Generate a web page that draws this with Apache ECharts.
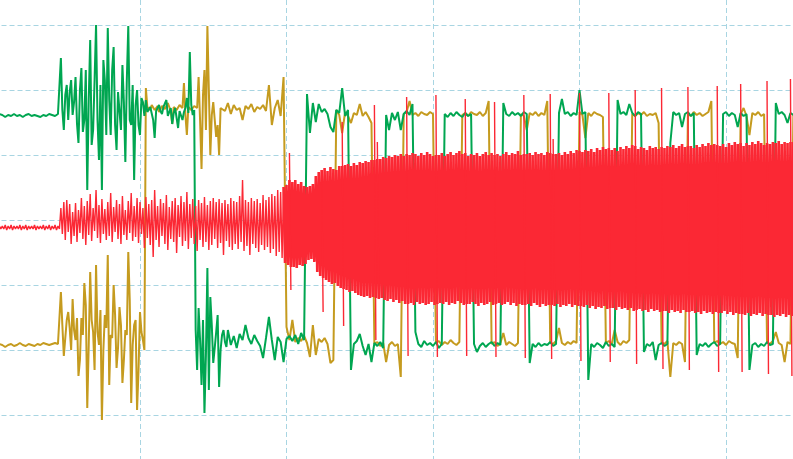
<!DOCTYPE html>
<html><head><meta charset="utf-8">
<script src="https://cdn.jsdelivr.net/npm/echarts@6/dist/echarts.min.js"></script>
<style>html,body{margin:0;padding:0;background:#fff}#c{width:793px;height:459px}</style>
</head><body><div id="c"></div>
<script>
// x: sample index (grid line every 50 samples); y: signal value (grid line every 65 units)
const xTicks = { min: 0, max: 300, interval: 50 };
const yTicks = { min: -260, max: 260, interval: 65 };

// green channel, one value per sample
const greenY = [
105,104,106,105,103,105,104,106,104,105,
103,105,106,104,105,104,103,105,104,106,
105,104,106,162,90,135,128,105,143,77,
152,100,30,180,90,195,60,30,140,192,
85,173,70,130,155,58,194,95,40,130,
85,118,120,110,114,82,112,109,113,120,
108,96,112,92,111,108,122,168,105,-110,
-88,-165,-193,-48,-77,-143,-112,-167,-115,-122,
-110,-125,-116,-128,-114,-120,-105,-118,-124,-115,
-121,-126,-138,-118,-97,-120,-140,-117,-122,-142,
-119,-116,-121,-115,-124,-113,-120,126,87,117,
98,116,108,111,106,93,88,110,107,132,
104,110,-150,-124,-121,-114,-126,-135,-124,-142,
-123,-126,-122,-128,105,90,107,100,108,90,
106,109,105,116,-112,-124,-127,-121,-125,-123,
-126,-122,-128,-124,106,103,107,104,108,105,
103,107,104,106,-124,-132,-126,-123,-127,-124,
-122,-126,-123,-125,117,106,104,108,105,107,
104,108,106,-143,-124,-127,-123,-126,-124,-125,
-122,-126,-124,107,121,106,108,104,107,105,
130,106,108,-160,-124,-127,-123,-125,-128,-122,
-126,-124,-127,120,106,108,105,116,107,104,
108,106,-132,-124,-126,-122,-140,-125,-123,-126,
-124,77,108,105,107,93,106,108,104,107,
-135,-124,-126,-123,-127,-124,-122,-126,-124,106,
108,104,107,105,93,107,104,106,-150,-125,
-123,-127,-124,-126,-122,-125,-124,117,106,108,
105,97,107,105];
// extra half-step green samples inside the bursts (x = greenMidStart + k + 0.5)
const greenMidStart = 23;
const greenMid = [
110,125,100,140,118,96,130,88,150,120,
75,140,100,135,160,85,120,150,95,128,
90,118,140,100,135,115,95,122,104,
108,113,100,109,115,106,111,104,112,107,
114,109,100,112,107,115,110,
-150,-120,-100,-135,-170,-105,-128,-95,-130,-110,-127];

// gold channel, one value per sample
const goldY = [
-125,-126,-124,-125,-127,-125,-124,-126,-125,-123,
-125,-126,-124,-125,-126,-124,-125,-123,-124,-125,
-124,-123,-124,-72,-136,-100,-108,-79,-120,-156,
-98,-63,-188,-52,-112,-45,-125,-200,-95,-35,
-115,-65,-148,-87,-163,-110,-32,-183,-105,-190,
-92,-120,132,112,115,110,114,111,116,112,
113,96,114,111,115,137,85,113,111,116,
143,51,150,194,65,118,83,65,114,109,
117,106,115,110,112,100,114,111,116,108,
113,111,115,109,135,95,112,120,104,143,
-107,-120,-100,-122,-118,-121,-116,-123,-137,-105,
-135,-119,-122,-118,-124,-143,-140,110,105,87,
108,104,97,107,105,116,104,108,103,97,
-124,-122,-126,-123,-142,-125,-122,-126,-124,-157,
106,108,119,105,107,104,108,106,105,108,
106,-123,-121,-125,-122,-124,-120,-123,-125,-122,
105,107,104,108,106,105,108,104,107,119,
-124,-122,-126,-123,-113,-125,-122,-124,-126,-123,
106,104,90,107,105,108,104,107,105,119,
-122,-124,-121,-108,-123,-125,-122,-124,-121,-123,
108,105,82,107,104,108,106,105,103,-123,
-121,-124,-110,-122,-125,-121,-123,-120,106,104,
107,105,108,104,106,105,107,97,-122,-124,
-121,-157,-123,-125,-122,-124,-142,106,104,108,
105,107,104,106,108,119,-123,-121,-124,-122,
-125,-121,-123,-124,-138,106,112,104,85,107,
105,108,104,106,-122,-124,-121,-112,-123,-125,
-142,-122,-124,106];
// extra half-step gold samples inside the bursts (x = goldMidStart + k + 0.5)
const goldMidStart = 23;
const goldMid = [
-105,-118,-92,-130,-110,-98,-140,-115,-85,-125,
-100,-150,-112,-90,-130,-108,-165,-118,-95,-128,
-105,-140,-115,-80,-125,-100,-150,-112,-130,
113,110,116,112,108,114,111,117,109,113,
110,115,112,105,113,110,114,
112,100,125,90,130,105,120,95,112];

// red channel envelope: peak of each cycle (at sample j) and trough (at sample j+0.5)
const redHi = [
-6,-5,-6,-6,-5,-6,-5,-6,-6,-5,
-6,-5,-6,-6,-5,-6,-6,-5,-6,-5,
-6,-5,-6,12,18,20,16,8,17,10,
22,14,19,26,12,30,15,21,11,18,
27,13,20,16,24,10,19,27,14,22,
18,12,23,16,20,30,14,21,17,25,
13,19,22,15,24,18,28,16,21,14,
20,17,23,15,19,22,18,21,17,20,
16,22,19,18,24,40,20,18,22,19,
21,17,25,20,23,26,24,30,28,33,
35,40,38,40,36,38,34,33,34,36,
44,48,50,52,49,53,51,50,54,54,
55,56,54,57,55,58,57,59,58,60,
60,61,61,63,62,64,63,65,64,66,
64,66,65,67,66,64,67,65,68,66,
64,65,65,67,64,66,68,65,67,69,
66,67,64,66,65,67,64,66,68,65,
67,65,66,64,66,68,65,67,66,69,
65,66,66,67,65,68,66,67,65,68,
67,66,66,67,65,68,66,69,67,70,
69,68,70,69,71,68,72,70,73,71,
72,70,72,69,73,71,74,72,75,74,
71,73,72,70,74,72,73,71,73,72,
74,73,75,72,74,76,73,74,74,72,
75,73,76,74,77,75,76,75,74,76,
73,77,75,78,76,77,74,77,75,78,
76,79,77,75,77,76,78,77,79,76,
78,77,78,78];

const redLo = [
-9,-10,-9,-9,-10,-9,-10,-9,-9,-10,
-9,-10,-9,-9,-10,-9,-9,-10,-9,-10,
-9,-10,-9,-14,-20,-12,-24,-16,-22,-13,
-19,-25,-15,-21,-11,-18,-23,-14,-20,-16,
-22,-12,-19,-24,-15,-20,-13,-21,-17,-23,
-14,-28,-18,-25,-37,-20,-27,-16,-24,-30,
-19,-22,-33,-17,-26,-21,-29,-18,-24,-31,
-20,-27,-22,-30,-25,-19,-28,-23,-35,-21,
-27,-30,-24,-29,-22,-31,-26,-35,-24,-28,
-32,-25,-30,-27,-33,-29,-36,-32,-38,-43,
-45,-47,-47,-48,-45,-46,-44,-40,-39,-42,
-52,-56,-58,-60,-62,-64,-63,-66,-68,-69,
-70,-72,-71,-73,-75,-76,-77,-76,-78,-77,
-78,-79,-78,-80,-81,-79,-82,-80,-83,-81,
-84,-84,-83,-85,-82,-84,-83,-85,-84,-82,
-85,-84,-83,-84,-82,-85,-83,-84,-81,-83,
-85,-84,-84,-82,-84,-86,-83,-85,-84,-82,
-85,-84,-83,-85,-84,-82,-85,-83,-86,-84,
-85,-85,-84,-86,-83,-85,-87,-84,-86,-85,
-85,-86,-84,-87,-85,-86,-84,-87,-85,-86,
-86,-87,-85,-88,-86,-89,-87,-88,-86,-89,
-88,-88,-90,-87,-89,-88,-90,-88,-91,-90,
-89,-91,-90,-92,-89,-91,-90,-92,-91,-91,
-93,-90,-92,-91,-93,-90,-92,-92,-91,-93,
-92,-94,-91,-93,-92,-94,-92,-93,-93,-91,
-94,-92,-95,-93,-94,-94,-95,-93,-96,-94,
-95,-93,-96,-94,-95,-95,-97,-95,-96,-94,
-97,-95,-96,-96];

// red switching spikes: [sample, peak, trough]
const redSpikes = [
[101,67,-70],[112,50,-92],[119,98,-106],[130,115,-120],[131,78,-79],
[141,123,-136],[151,125,-137],[161,121,-136],[171,118,-137],[181,125,-138],
[190,126,-139],[191,81,-86],[200,127,-141],[210,127,-142],[219,130,-144],
[228,132,-149],[237,133,-150],[247,134,-152],[255,136,-152],[264,139,-154],
[272,141,-156]];

const colors = { green: '#00a651', gold: '#c59b1f', red: '#fb2834', grid: '#a8d5e2' };

function merged(main, mid, start) {
  const out = main.map((v, i) => [i, v]);
  mid.forEach((v, k) => out.push([start + k + 0.5, v]));
  out.sort((a, b) => a[0] - b[0]);
  return out;
}
function zig(a, b) {
  const out = [];
  for (let j = a; j <= b; j++) { out.push([j, redHi[j]]); out.push([j + 0.5, redLo[j]]); }
  return out;
}
function spikes() {
  const out = [];
  redSpikes.forEach(s => { out.push([s[0], s[1]]); out.push([s[0] + 0.5, s[2]]); out.push([s[0] + 0.75, '-']); });
  return out;
}
const split = { show: true, lineStyle: { color: colors.grid, width: 1, type: [5, 3] } };
const axisCommon = { axisLine: { show: false }, axisTick: { show: false }, axisLabel: { show: false }, splitLine: split };
function line(data, color, width) {
  return { type: 'line', data, showSymbol: false, symbol: 'none', silent: true, animation: false,
           connectNulls: false, lineStyle: { color, width }, emphasis: { disabled: true } };
}
const chart = echarts.init(document.getElementById('c'), null, { renderer: 'canvas' });
chart.setOption({
  backgroundColor: '#ffffff',
  animation: false,
  grid: { left: -6.5, top: -40, width: 879, height: 520, containLabel: false, outerBoundsMode: 'none' },
  xAxis: Object.assign({ type: 'value' }, xTicks, axisCommon),
  yAxis: Object.assign({ type: 'value' }, yTicks, axisCommon),
  series: [
    line(merged(goldY, goldMid, goldMidStart), colors.gold, 2),
    line(merged(greenY, greenMid, greenMidStart), colors.green, 2),
    line(zig(0, 99), colors.red, 1.4),
    line(zig(99, 273), colors.red, 2.6),
    line(spikes(), colors.red, 1.4)
  ]
});
</script></body></html>
